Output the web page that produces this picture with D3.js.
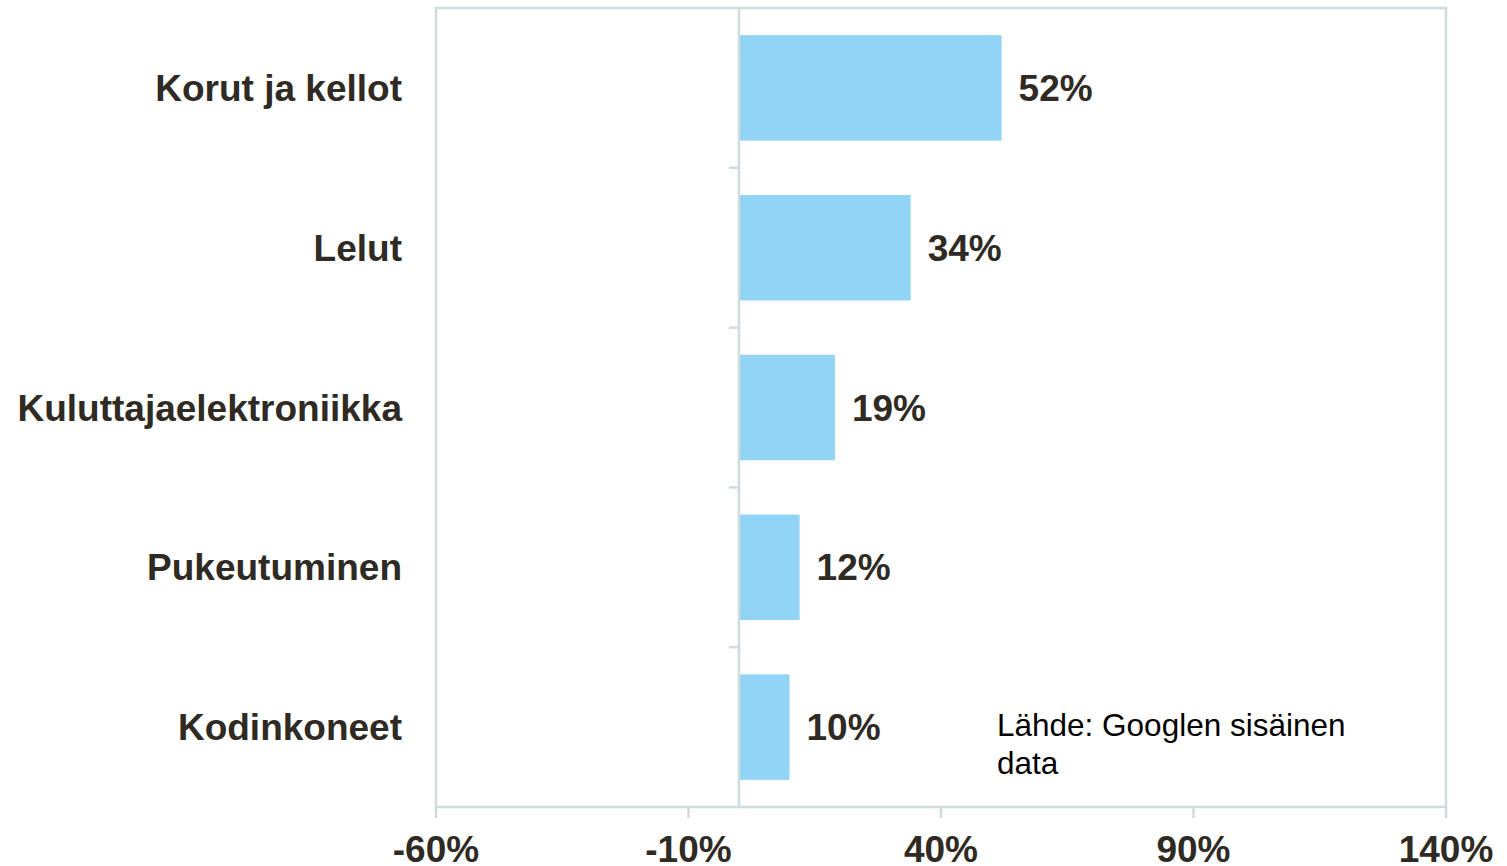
<!DOCTYPE html>
<html><head><meta charset="utf-8">
<script src="https://cdn.jsdelivr.net/npm/d3@7"></script>
<style>html,body{margin:0;padding:0;background:#fff;} svg{display:block;}</style>
</head><body>
<svg id="chart" width="1507" height="866"></svg>
<script>
const categories = ["Korut ja kellot", "Lelut", "Kuluttajaelektroniikka", "Pukeutuminen", "Kodinkoneet"];
const values = [52, 34, 19, 12, 10];
const xTicks = [-60, -10, 40, 90, 140];
const sourceLines = ["Lähde: Googlen sisäinen", "data"];

const svg = d3.select("#chart");
const plotLeft = 436, plotRight = 1446, plotTop = 8, plotBottom = 807;
const gridColor = "#d0dbde", textColor = "#2f2b24", barColor = "#92d4f5";
const font = "'Liberation Sans', Arial, sans-serif";

const x = d3.scaleLinear().domain([-60, 140]).range([plotLeft, plotRight]);
const y = d3.scaleBand().domain(categories).range([plotTop, plotBottom]).paddingInner(0.34).paddingOuter(0.17);

// frame
svg.append("rect").attr("x", plotLeft).attr("y", plotTop).attr("width", plotRight - plotLeft).attr("height", plotBottom - plotTop)
  .attr("fill", "none").attr("stroke", gridColor).attr("stroke-width", 2.5);

// bars
svg.selectAll("rect.bar").data(values).enter().append("rect").attr("class", "bar")
  .attr("x", x(0)).attr("y", (d, i) => y(categories[i]))
  .attr("width", d => x(d) - x(0)).attr("height", y.bandwidth()).attr("fill", barColor);

// zero line
svg.append("line").attr("x1", x(0)).attr("x2", x(0)).attr("y1", plotTop).attr("y2", plotBottom)
  .attr("stroke", gridColor).attr("stroke-width", 2.5);

// category separator ticks
const step = y.step();
const bounds = categories.slice(1).map(c => y(c) - step * y.paddingInner() / 2);
svg.selectAll("line.ctick").data(bounds).enter().append("line").attr("class", "ctick")
  .attr("x1", x(0) - 10).attr("x2", x(0)).attr("y1", d => d).attr("y2", d => d)
  .attr("stroke", gridColor).attr("stroke-width", 2.5);

// x axis ticks
svg.selectAll("line.xtick").data(xTicks).enter().append("line").attr("class", "xtick")
  .attr("x1", d => x(d)).attr("x2", d => x(d)).attr("y1", plotBottom).attr("y2", plotBottom + 11)
  .attr("stroke", gridColor).attr("stroke-width", 2.5);
svg.selectAll("text.xlab").data(xTicks).enter().append("text").attr("class", "xlab")
  .attr("x", d => x(d)).attr("y", 862).attr("text-anchor", "middle")
  .attr("font-family", font).attr("font-weight", "bold").attr("font-size", 37).attr("fill", textColor)
  .text(d => d + "%");

// category labels
svg.selectAll("text.cat").data(categories).enter().append("text").attr("class", "cat")
  .attr("x", 402).attr("y", d => y(d) + y.bandwidth() / 2 + 13).attr("text-anchor", "end")
  .attr("font-family", font).attr("font-weight", "bold").attr("font-size", 37).attr("fill", textColor)
  .text(d => d);

// value labels
svg.selectAll("text.val").data(values).enter().append("text").attr("class", "val")
  .attr("x", d => x(d) + 17).attr("y", (d, i) => y(categories[i]) + y.bandwidth() / 2 + 13)
  .attr("font-family", font).attr("font-weight", "bold").attr("font-size", 37).attr("fill", textColor)
  .text(d => d + "%");

// source note
svg.selectAll("text.src").data(sourceLines).enter().append("text").attr("class", "src")
  .attr("x", 997).attr("y", (d, i) => 736 + i * 38)
  .attr("font-family", font).attr("font-size", 31.5).attr("fill", "#000")
  .text(d => d);
</script>
</body></html>
